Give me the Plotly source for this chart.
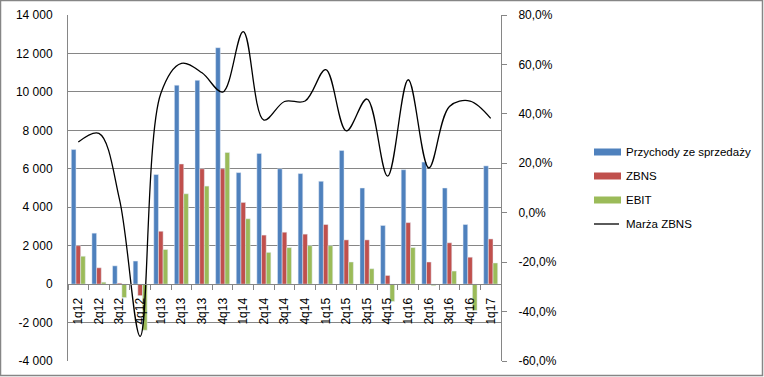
import plotly.graph_objects as go

# ---- data ----
quarters = ["1q12", "2q12", "3q12", "4q12", "1q13", "2q13", "3q13", "4q13", "1q14", "2q14",
            "3q14", "4q14", "1q15", "2q15", "3q15", "4q15", "1q16", "2q16", "3q16", "4q16", "1q17"]
przychody = [7000, 2650, 950, 1200, 5700, 10350, 10600, 12300, 5800, 6800,
             6000, 5750, 5350, 6950, 5000, 3050, 5950, 6350, 5000, 3100, 6150]
zbns = [2000, 850, 50, -600, 2750, 6250, 6000, 6000, 4250, 2550,
        2700, 2600, 3100, 2300, 2300, 450, 3200, 1150, 2150, 1400, 2350]
ebit = [1450, 100, -700, -2400, 1800, 4700, 5100, 6850, 3400, 1650,
        1900, 2000, 2000, 1150, 800, -900, 1900, -80, 680, -1370, 1100]
marza = [28.6, 32.1, 5.3, -50.0, 48.2, 60.4, 56.6, 48.8, 73.3, 37.5,
         45.0, 45.2, 57.9, 33.1, 46.0, 14.8, 53.8, 18.1, 43.0, 45.2, 38.2]

series_names = ["Przychody ze sprzedaży", "ZBNS", "EBIT", "Marża ZBNS"]

y_ticks = [-4000, -2000, 0, 2000, 4000, 6000, 8000, 10000, 12000, 14000]
y_tick_labels = ["-4 000", "-2 000", "0", "2 000", "4 000", "6 000", "8 000", "10 000", "12 000", "14 000"]
y2_ticks = [-60, -40, -20, 0, 20, 40, 60, 80]
y2_tick_labels = ["-60,0%", "-40,0%", "-20,0%", "0,0%", "20,0%", "40,0%", "60,0%", "80,0%"]

# ---- style ----
C_BLUE, C_RED, C_GREEN = "#4F81BD", "#C0504D", "#9BBB59"
GRID = "#868686"
FONT = "Liberation Sans, Arial, sans-serif"
W, H = 764, 377
ML, MR, MT, MB = 68, 263, 15, 16
PW, PH = W - ML - MR, H - MT - MB

def px(x):
    return (x - ML) / PW

def py(y):
    return (H - MB - y) / PH

fig = go.Figure()
fig.add_trace(go.Bar(x=quarters, y=przychody, name=series_names[0], marker_color=C_BLUE))
fig.add_trace(go.Bar(x=quarters, y=zbns, name=series_names[1], marker_color=C_RED))
fig.add_trace(go.Bar(x=quarters, y=ebit, name=series_names[2], marker_color=C_GREEN))
fig.add_trace(go.Scatter(x=quarters, y=marza, name=series_names[3], yaxis="y2", mode="lines",
                         line=dict(color="black", width=1.3, shape="spline", smoothing=1.0)))

zero_pos = (0 - y_ticks[0]) / (y_ticks[-1] - y_ticks[0])

fig.update_layout(
    width=W, height=H,
    margin=dict(l=ML, r=MR, t=MT, b=MB, pad=0, autoexpand=False),
    paper_bgcolor="white", plot_bgcolor="white",
    showlegend=False,
    barmode="group", bargap=0.32, bargroupgap=0,
    font=dict(family=FONT, size=12, color="#000"),
    xaxis=dict(
        type="category", anchor="free", position=zero_pos,
        showline=True, linecolor=GRID, linewidth=1,
        ticks="outside", tickson="boundaries", ticklen=5, tickcolor=GRID,
        tickangle=-90, tickfont=dict(size=12), ticklabelstandoff=8,
        showgrid=False, zeroline=False, automargin=False,
    ),
    yaxis=dict(
        range=[y_ticks[0], y_ticks[-1]], tickvals=y_ticks, ticktext=y_tick_labels,
        showgrid=True, gridcolor=GRID, gridwidth=1,
        showline=True, linecolor=GRID, linewidth=1,
        zeroline=False, ticks="", ticklabelstandoff=12, automargin=False,
    ),
    yaxis2=dict(
        range=[y2_ticks[0], y2_ticks[-1]], tickvals=y2_ticks, ticktext=y2_tick_labels,
        overlaying="y", side="right", anchor="x",
        showgrid=False, zeroline=False,
        showline=True, linecolor=GRID, linewidth=1,
        ticks="outside", ticklen=5, tickcolor=GRID, ticklabelstandoff=9, automargin=False,
    ),
)

# outer chart border
fig.add_shape(type="rect", xref="paper", yref="paper",
              x0=px(0.5), x1=px(W - 1.5), y0=py(H - 1.5), y1=py(0.5),
              line=dict(color=GRID, width=1.5), fillcolor="rgba(0,0,0,0)", layer="below")

# custom legend
leg_x0, leg_x1, text_x = 594, 621, 623.5
leg_rows = [152, 176, 200, 224]
for name, color, yc in zip(series_names[:3], [C_BLUE, C_RED, C_GREEN], leg_rows[:3]):
    fig.add_shape(type="rect", xref="paper", yref="paper",
                  x0=px(leg_x0), x1=px(leg_x1), y0=py(yc + 3.5), y1=py(yc - 3.5),
                  line=dict(width=0), fillcolor=color)
for name, yc in zip(series_names, leg_rows):
    fig.add_annotation(x=px(text_x), y=py(yc), xref="paper", yref="paper", text=name,
                       showarrow=False, xanchor="left", yanchor="middle",
                       font=dict(family=FONT, size=11.5, color="#000"))
fig.add_shape(type="line", xref="paper", yref="paper",
              x0=px(leg_x0), x1=px(leg_x1 - 2), y0=py(leg_rows[3]), y1=py(leg_rows[3]),
              line=dict(color="black", width=1.3))

fig.write_html("out.html", config={"responsive": False, "displayModeBar": False},
               post_script="document.body.style.margin='0px';document.body.style.overflow='hidden';")
